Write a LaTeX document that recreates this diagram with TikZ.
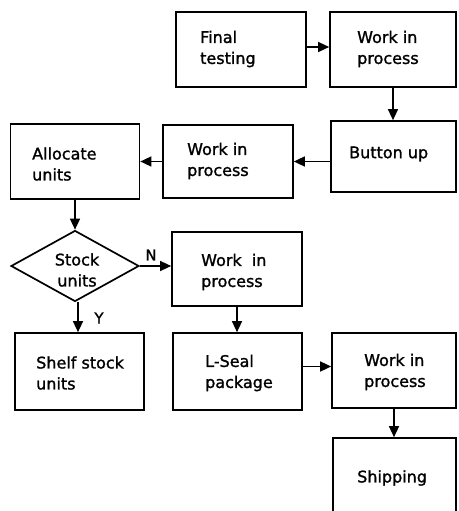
\documentclass[tikz,border=0pt]{standalone}
\usepackage{fontspec}
\setmainfont{DejaVu Sans}[FakeBold=1.3]
\usetikzlibrary{arrows.meta,shapes.geometric}
\tikzset{
  box/.style={draw, line width=1.7pt, rectangle, inner sep=0pt},
  dia/.style={draw, line width=1.7pt, diamond, inner sep=0pt},
  txt/.style={anchor=west, align=left, inner sep=0pt, font=\fontsize{16}{21}\selectfont},
  ctxt/.style={anchor=center, align=center, inner sep=0pt, font=\fontsize{16}{21}\selectfont},
  lab/.style={inner sep=0pt, font=\fontsize{15}{16}\selectfont},
  arr/.style={line width=1.5pt, -{Triangle[length=11pt,width=10pt]}},
}
\begin{document}
\begin{tikzpicture}[x=1pt,y=-1pt]
\clip (0,0) rectangle (458,511);
\fill[white] (0,0) rectangle (458,511);
% boxes
\node[box, minimum width=130, minimum height=75] (ft) at (241,49.5) {};
\node[box, minimum width=126, minimum height=75] (w1) at (393,49.5) {};
\node[box, minimum width=125, minimum height=71] (bu) at (393.5,156.5) {};
\node[box, minimum width=130, minimum height=73] (w2) at (228,161.5) {};
\node[box, minimum width=129, minimum height=75] (au) at (75,161.5) {};
\node[dia, minimum width=128, minimum height=71] (dm) at (75,266) {};
\node[box, minimum width=130, minimum height=74] (wn) at (237,269) {};
\node[box, minimum width=129, minimum height=77] (ss) at (79.5,371.5) {};
\node[box, minimum width=129, minimum height=77] (ls) at (237.5,371.5) {};
\node[box, minimum width=124, minimum height=75] (w3) at (394,370.5) {};
\node[box, minimum width=123, minimum height=122] (sh) at (394.5,499) {};
% texts
\node[txt] (tft) at (200,49) {Final\\testing};
\node[txt] (tw1) at (357,49) {Work in\\process};
\node[txt] (tbu) at (349,154) {Button up};
\node[txt] (tw2) at (187,161) {Work in\\process};
\node[txt] (tau) at (32,164) {Allocate\\units};
\node[ctxt] (tdm) at (77,270) {Stock\\units};
\node[txt] (twn) at (201,272) {Work\ \ in\\process};
\node[txt] (tss) at (36,373) {Shelf stock\\units};
\node[txt] (tls) at (205,373) {L-Seal\\package};
\node[txt] (tw3) at (364,372) {Work in\\process};
\node[txt] (tsh) at (357,478) {Shipping};
% connectors
\draw[arr] (ft.east |- 0,47) -- (w1.west |- 0,47);
\draw[arr] (w1.south) -- (w1.south |- bu.north);
\draw[arr] (bu.west |- w2.east) -- (w2.east);
\draw[arr] (w2.west) -- (au.east);
\draw[arr] (au.south) -- (dm.north);
\draw[arr] (dm.east) -- (dm.east -| wn.west);
\draw[arr] ([xshift=3pt]dm.south) -- ([xshift=3pt]dm.south |- ss.north);
\draw[arr] (wn.south) -- (wn.south |- ls.north);
\draw[arr] ([yshift=5pt]ls.east) -- ([yshift=5pt]ls.east -| w3.west);
\draw[arr] (w3.south) -- (w3.south |- sh.north);
% labels
\node[lab] (ln) at (151,255) {N};
\node[lab] (ly) at (99,318) {Y};
\end{tikzpicture}
\end{document}
